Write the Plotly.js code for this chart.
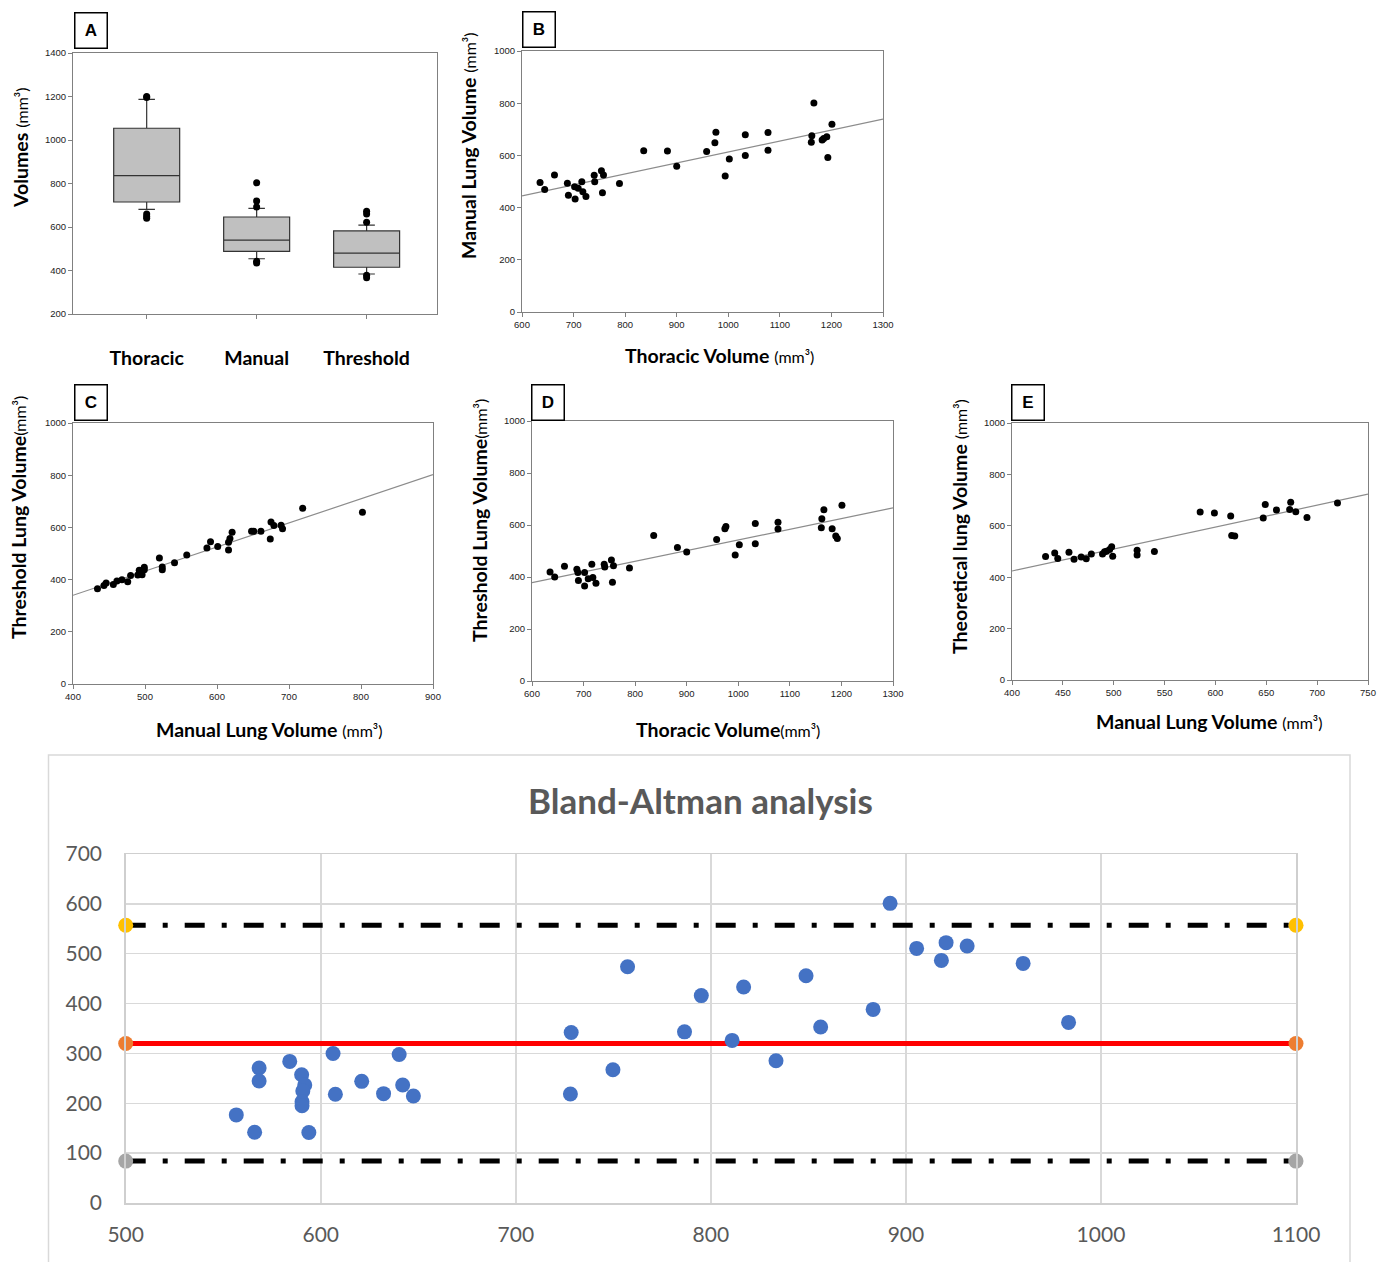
<!DOCTYPE html>
<html>
<head>
<meta charset="utf-8">
<script src="https://cdn.plot.ly/plotly-3.0.1.min.js"></script>
<style>
  html, body { margin: 0; padding: 0; background: #ffffff; }
  #chart { width: 1386px; height: 1262px; }
</style>
</head>
<body>
<div id="chart"></div>
<script>
// ---------------- DATA ----------------
// Panel A: box plot summary (precomputed) + outliers
const boxCategories = ['Thoracic', 'Manual', 'Threshold'];
const boxQ1 = [715, 488, 415];
const boxMedian = [836, 540, 480];
const boxQ3 = [1054, 646, 582];
const boxLowerFence = [681, 454, 384];
const boxUpperFence = [1187, 686, 609];
const outlierCategory = ['Thoracic', 'Thoracic', 'Thoracic', 'Thoracic', 'Thoracic',
  'Manual', 'Manual', 'Manual', 'Manual', 'Manual',
  'Threshold', 'Threshold', 'Threshold', 'Threshold', 'Threshold'];
const outlierValue = [1200, 1195, 660, 648, 640,
  803, 720, 692, 442, 435,
  672, 660, 622, 378, 367];

// Panel B: Thoracic volume vs Manual lung volume
const thoracicB = [635, 644, 663, 688, 690, 702, 703, 709, 716, 718, 724, 740, 741, 754, 758, 756, 789,
  836, 882, 900, 958, 974, 976, 994, 1002, 1033, 1033, 1077, 1077, 1161, 1162, 1166, 1182, 1185, 1191, 1193, 1201];
const manualB = [496, 469, 525, 493, 447, 480, 433, 474, 499, 461, 443, 524, 499, 541, 525, 457, 492,
  618, 617, 558, 615, 648, 689, 521, 586, 679, 600, 688, 620, 650, 675, 801, 659, 665, 671, 592, 719];
const lineBx = [600, 1300];
const lineBy = [445, 739];

// Panel C: Manual vs Threshold lung volume
const manualC = [434, 443, 446, 456, 461, 468, 476, 480, 490, 492, 496, 499, 499, 520, 524, 524, 541, 558,
  586, 591, 601, 616, 616, 618, 621, 648, 651, 661, 674, 675, 679, 689, 691, 719, 802];
const thresholdC = [365, 377, 387, 381, 395, 399, 392, 416, 418, 436, 419, 447, 438, 483, 448, 438, 465, 494,
  521, 545, 527, 513, 543, 557, 581, 585, 585, 585, 556, 621, 607, 608, 595, 673, 658];
const lineCx = [400, 900];
const lineCy = [340, 802];

// Panel D: Thoracic vs Threshold lung volume
const thoracicD = [635, 644, 663, 687, 689, 690, 702, 702, 709, 716, 718, 724, 740, 741, 754, 758, 756, 789,
  836, 882, 900, 958, 974, 976, 994, 1002, 1033, 1033, 1077, 1077, 1161, 1162, 1166, 1182, 1189, 1192, 1201];
const thresholdD = [419, 400, 441, 430, 417, 387, 417, 365, 393, 449, 398, 376, 449, 438, 465, 443, 380, 435,
  560, 513, 496, 544, 586, 594, 485, 524, 606, 528, 611, 585, 589, 624, 659, 586, 558, 548, 676];
const lineDx = [600, 1300];
const lineDy = [378, 666];

// Panel E: Manual vs Theoretical lung volume
const manualE = [433, 442, 445, 456, 461, 468, 473, 478, 489, 491, 493, 496, 498, 499, 523, 523, 540,
  585, 599, 615, 616, 619, 647, 649, 660, 673, 674, 679, 690, 720];
const theoreticalE = [481, 494, 473, 497, 470, 479, 472, 490, 490, 499, 501, 508, 518, 482, 486, 505, 500,
  654, 650, 638, 562, 560, 630, 683, 661, 663, 692, 655, 632, 689];
const lineEx = [400, 750];
const lineEy = [424, 723];

// Bland-Altman analysis
const baMean = [556.7, 566.1, 568.4, 568.4, 584.1, 590.2, 591.8, 590.8, 590.4, 590.4, 593.9, 606.3, 607.5,
  621.0, 632.2, 640.2, 642.0, 647.5, 728.4, 728.0, 749.8, 757.3, 786.5, 795.1, 816.8, 810.9, 833.4, 848.8,
  856.3, 883.2, 891.9, 905.5, 918.2, 920.6, 931.4, 960.1, 983.4];
const baDiff = [176.7, 142.0, 270.7, 244.7, 284.0, 257.3, 236.7, 224.7, 203.0, 195.0, 141.3, 300.0, 218.0,
  244.0, 219.3, 298.0, 236.7, 214.7, 342.0, 218.7, 267.3, 474.0, 343.3, 416.0, 433.2, 326.1, 285.3, 455.9,
  353.0, 388.3, 601.0, 510.7, 486.6, 522.2, 515.6, 480.6, 362.2];
const baLimitX = [500, 1100];
const baUpper = [557, 557];
const baMeanDiff = [320, 320];
const baLower = [84, 84];

// Tick values
const ticksA = [200, 400, 600, 800, 1000, 1200, 1400];
const ticksBAx = [500, 600, 700, 800, 900, 1000, 1100];
const ticksBAy = [0, 100, 200, 300, 400, 500, 600, 700];

// ---------------- LAYOUT HELPERS ----------------
const W = 1386, H = 1262;
const PX = v => v / W;
const PY = v => 1 - v / H;

const smallTickFont = {family: 'Liberation Sans, Arial, sans-serif', size: 9.5, color: '#222'};
function smallAxis(extra) {
  return Object.assign({
    showline: true, linecolor: '#808080', linewidth: 1, mirror: true,
    ticks: 'outside', ticklen: 4, tickcolor: '#808080', tickwidth: 1,
    showgrid: false, zeroline: false, tickfont: smallTickFont, fixedrange: true
  }, extra);
}

const dotMarker = {color: '#000', size: 7};
const regLine = {color: '#8c8c8c', width: 1.2};

const traces = [
  // Panel A
  {type: 'box', x: boxCategories, q1: boxQ1, median: boxMedian, q3: boxQ3,
   lowerfence: boxLowerFence, upperfence: boxUpperFence, boxpoints: false,
   width: 0.6, whiskerwidth: 0.25, fillcolor: '#c0c0c0',
   line: {color: '#333', width: 1.2}, xaxis: 'x', yaxis: 'y', hoverinfo: 'skip'},
  {type: 'scatter', mode: 'markers', x: outlierCategory, y: outlierValue,
   marker: dotMarker, xaxis: 'x', yaxis: 'y', cliponaxis: false},
  // Panel B
  {type: 'scatter', mode: 'lines', x: lineBx, y: lineBy, line: regLine, xaxis: 'x2', yaxis: 'y2'},
  {type: 'scatter', mode: 'markers', x: thoracicB, y: manualB, marker: dotMarker, xaxis: 'x2', yaxis: 'y2'},
  // Panel C
  {type: 'scatter', mode: 'lines', x: lineCx, y: lineCy, line: regLine, xaxis: 'x3', yaxis: 'y3'},
  {type: 'scatter', mode: 'markers', x: manualC, y: thresholdC, marker: dotMarker, xaxis: 'x3', yaxis: 'y3'},
  // Panel D
  {type: 'scatter', mode: 'lines', x: lineDx, y: lineDy, line: regLine, xaxis: 'x4', yaxis: 'y4'},
  {type: 'scatter', mode: 'markers', x: thoracicD, y: thresholdD, marker: dotMarker, xaxis: 'x4', yaxis: 'y4'},
  // Panel E
  {type: 'scatter', mode: 'lines', x: lineEx, y: lineEy, line: regLine, xaxis: 'x5', yaxis: 'y5'},
  {type: 'scatter', mode: 'markers', x: manualE, y: theoreticalE, marker: dotMarker, xaxis: 'x5', yaxis: 'y5'},
  // Bland-Altman
  {type: 'scatter', mode: 'lines+markers', x: baLimitX, y: baUpper,
   line: {color: '#000', width: 5, dash: '20px,17px,5px,17px'},
   marker: {color: '#FFC000', size: 15}, xaxis: 'x6', yaxis: 'y6', cliponaxis: false},
  {type: 'scatter', mode: 'lines+markers', x: baLimitX, y: baLower,
   line: {color: '#000', width: 5, dash: '20px,17px,5px,17px'},
   marker: {color: '#A5A5A5', size: 15}, xaxis: 'x6', yaxis: 'y6', cliponaxis: false},
  {type: 'scatter', mode: 'lines+markers', x: baLimitX, y: baMeanDiff,
   line: {color: '#FF0000', width: 5},
   marker: {color: '#ED7D31', size: 15}, xaxis: 'x6', yaxis: 'y6', cliponaxis: false},
  {type: 'scatter', mode: 'markers', x: baMean, y: baDiff,
   marker: {color: '#4472C4', size: 15}, xaxis: 'x6', yaxis: 'y6'}
];

const titleFont = {family: 'Lato, Liberation Sans, sans-serif', size: 19.5, color: '#000'};
const unit = " <span style='font-size:16px;font-weight:normal'>(mm³)</span>";
const unitTight = "<span style='font-size:16px;font-weight:normal'>(mm³)</span>";

function labelBox(letter, cx, cy) {
  return {text: '<b>' + letter + '</b>', xref: 'paper', yref: 'paper', x: PX(cx), y: PY(cy),
    xanchor: 'center', yanchor: 'middle', showarrow: false,
    font: {family: 'Liberation Sans, Arial, sans-serif', size: 17, color: '#000'},
    bordercolor: '#000', borderwidth: 1.5, borderpad: 2, bgcolor: '#fff', width: 27, height: 30};
}
function ytitle(txt, cx, cy) {
  return {text: txt, xref: 'paper', yref: 'paper', x: PX(cx), y: PY(cy), textangle: -90,
    xanchor: 'center', yanchor: 'middle', showarrow: false, font: titleFont};
}
function xtitle(txt, cx, cy) {
  return {text: txt, xref: 'paper', yref: 'paper', x: PX(cx), y: PY(cy),
    xanchor: 'center', yanchor: 'middle', showarrow: false, font: titleFont};
}

const baAxisCommon = {
  showgrid: true, gridcolor: '#d9d9d9', gridwidth: 1.5, showline: true, linecolor: '#cfcfcf', linewidth: 1.5,
  mirror: true, zeroline: false, ticks: '', fixedrange: true,
  tickfont: {family: 'Lato, Liberation Sans, sans-serif', size: 21, color: '#595959'}
};

const layout = {
  width: W, height: H,
  margin: {l: 0, r: 0, t: 0, b: 0},
  paper_bgcolor: '#fff', plot_bgcolor: 'rgba(0,0,0,0)',
  showlegend: false,
  font: {family: 'Liberation Sans, Arial, sans-serif'},
  // Panel A
  xaxis: smallAxis({domain: [PX(73), PX(437)], anchor: 'y', type: 'category',
    range: [-0.67, 2.64], ticklabelstandoff: 23,
    tickfont: {family: 'Lato, Liberation Sans, sans-serif', size: 19.5, color: '#000', weight: 'bold'}}),
  yaxis: smallAxis({domain: [PY(314), PY(53)], anchor: 'x', range: [200, 1400],
    tickvals: ticksA}),
  // Panel B
  xaxis2: smallAxis({domain: [PX(522), PX(883)], anchor: 'y2', range: [600, 1300], dtick: 100}),
  yaxis2: smallAxis({domain: [PY(312), PY(51)], anchor: 'x2', range: [0, 1000], dtick: 200}),
  // Panel C
  xaxis3: smallAxis({domain: [PX(73), PX(433)], anchor: 'y3', range: [400, 900], dtick: 100}),
  yaxis3: smallAxis({domain: [PY(684), PY(423)], anchor: 'x3', range: [0, 1000], dtick: 200}),
  // Panel D
  xaxis4: smallAxis({domain: [PX(532), PX(893)], anchor: 'y4', range: [600, 1300], dtick: 100}),
  yaxis4: smallAxis({domain: [PY(681), PY(421)], anchor: 'x4', range: [0, 1000], dtick: 200}),
  // Panel E
  xaxis5: smallAxis({domain: [PX(1012), PX(1368)], anchor: 'y5', range: [400, 750], dtick: 50}),
  yaxis5: smallAxis({domain: [PY(680), PY(423)], anchor: 'x5', range: [0, 1000], dtick: 200}),
  // Bland-Altman
  xaxis6: Object.assign({domain: [PX(125.7), PX(1296)], anchor: 'y6', range: [500, 1100],
    tickvals: ticksBAx, ticklabelstandoff: 12}, baAxisCommon),
  yaxis6: Object.assign({domain: [PY(1203), PY(854)], anchor: 'x6', range: [0, 700],
    tickvals: ticksBAy, ticklabelstandoff: 18}, baAxisCommon),
  shapes: [
    {type: 'rect', xref: 'paper', yref: 'paper', x0: PX(48.5), x1: PX(1350), y0: PY(1290), y1: PY(755),
     line: {color: '#d9d9d9', width: 1.5}, fillcolor: 'rgba(0,0,0,0)', layer: 'below'}
  ],
  annotations: [
    labelBox('A', 91, 31), labelBox('B', 538.5, 30), labelBox('C', 91, 402.5),
    labelBox('D', 548, 402.5), labelBox('E', 1028, 402.5),
    ytitle('<b>Volumes</b>' + unit, 20, 148),
    ytitle('<b>Manual Lung Volume</b>' + unit, 468, 146),
    ytitle('<b>Threshold Lung Volume</b>' + unitTight, 18, 518),
    ytitle('<b>Threshold Lung Volume</b>' + unitTight, 479, 520),
    ytitle('<b>Theoretical lung Volume</b>' + unit, 959, 527),
    xtitle('<b>Thoracic Volume</b>' + unit, 719, 356),
    xtitle('<b>Manual Lung Volume</b>' + unit, 269, 729),
    xtitle('<b>Thoracic Volume</b>' + unitTight, 728, 729),
    xtitle('<b>Manual Lung Volume</b>' + unit, 1209, 722),
    {text: '<b>Bland-Altman analysis</b>', xref: 'paper', yref: 'paper', x: PX(700), y: PY(800),
     xanchor: 'center', yanchor: 'middle', showarrow: false,
     font: {family: 'Lato, Liberation Sans, sans-serif', size: 35, color: '#595959'}}
  ]
};

Plotly.newPlot('chart', traces, layout, {staticPlot: true, displayModeBar: false});
</script>
</body>
</html>
